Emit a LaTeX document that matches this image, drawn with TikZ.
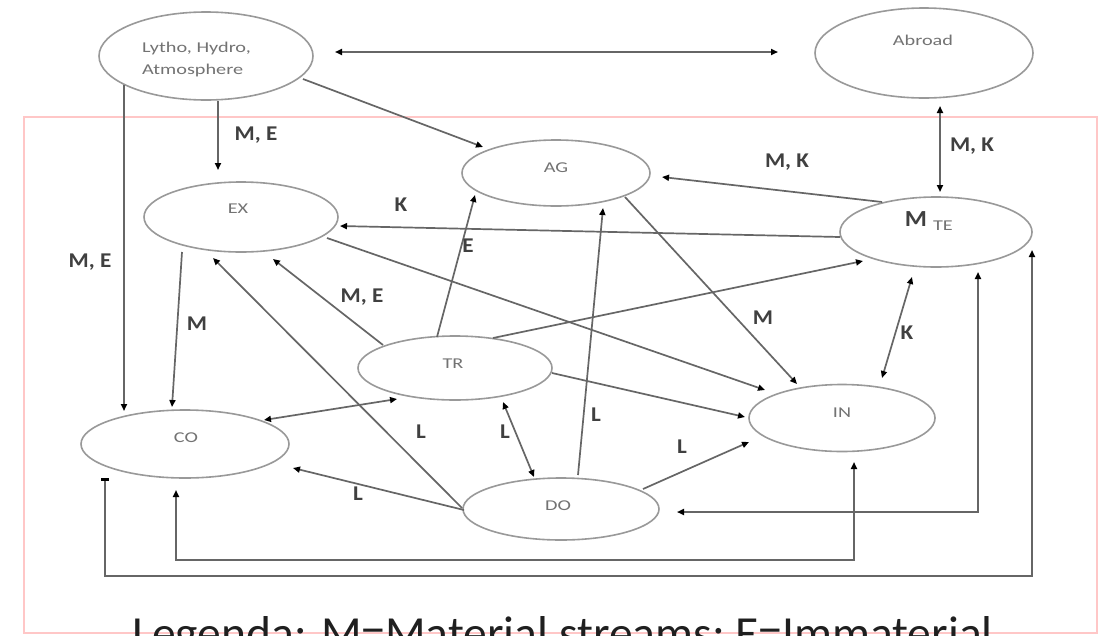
\documentclass[tikz,border=0pt]{standalone}
\usepackage{fontspec}
\setmainfont{Carlito}
\usetikzlibrary{shapes.geometric,arrows.meta,calc}
\newcommand{\nts}[1]{\scalebox{1.35}[1]{#1}}
\newcommand{\lbs}[1]{\scalebox{1.1}[1]{#1}}
\begin{document}
\begin{tikzpicture}[x=1pt,y=-1pt,
  ell/.style={draw=black!40, line width=1.6pt, ellipse, inner sep=0pt},
  con/.style={draw=black!60, line width=1.7pt},
  arr/.style={con, -{Triangle[length=7pt,width=6pt,color=black]}},
  dbl/.style={con, {Triangle[length=7pt,width=6pt,color=black]}-{Triangle[length=7pt,width=6pt,color=black]}},
  lab/.style={font=\fontsize{21}{21}\selectfont\bfseries, text=black!75, inner sep=0pt},
  ntxt/.style={font=\fontsize{15}{22}\selectfont, text=black!55, inner sep=0pt},
  frame/.style={draw=red!22, line width=1.5pt}
]
\useasboundingbox (0,0) rectangle (1105,635);
\fill[white] (0,0) rectangle (1105,635);
\clip (0,0) rectangle (1105,635);

% frame
\draw[frame] (24,117) rectangle (1097,633);

% ellipses
\node[ell, minimum width=214pt, minimum height=88pt] (LY) at (206,56) {};
\node[ell, minimum width=218pt, minimum height=90pt] (AB) at (924,53) {};
\node[ell, minimum width=188pt, minimum height=66pt] (AG) at (556,173) {};
\node[ell, minimum width=194pt, minimum height=70pt] (EX) at (241,217) {};
\node[ell, minimum width=192pt, minimum height=70pt] (TE) at (936,232) {};
\node[ell, minimum width=194pt, minimum height=64pt] (TR) at (455,368) {};
\node[ell, minimum width=186pt, minimum height=67pt] (IN) at (842,418) {};
\node[ell, minimum width=208pt, minimum height=68pt] (CO) at (185,444) {};
\node[ell, minimum width=196pt, minimum height=62pt] (DO) at (561,509) {};

% node texts
\node[ntxt, align=left, anchor=west] (LYt) at (142,59) {\nts{Lytho, Hydro,}\\\nts{Atmosphere}};
\node[ntxt] (ABt) at (923,40) {\nts{Abroad}};
\node[ntxt] (AGt) at (556,168) {\nts{AG}};
\node[ntxt] (EXt) at (238,209) {\nts{EX}};
\node[lab, font=\fontsize{23}{23}\selectfont\bfseries] (TEm) at (916,219) {\lbs{M}};
\node[ntxt] (TEt) at (943,226) {\nts{TE}};
\node[ntxt] (TRt) at (453,364) {\nts{TR}};
\node[ntxt] (INt) at (842,413) {\nts{IN}};
\node[ntxt] (COt) at (186,438) {\nts{CO}};
\node[ntxt] (DOt) at (558,506) {\nts{DO}};

% connectors
\draw[dbl] ($(LY)+(129,-4)$) -- ($(AB)+(-146,-1)$);
\draw[arr] ($(LY)+(97,23)$) -- ($(AG)+(-73,-26)$);
\draw[arr] ($(LY)+(12,45)$) -- ($(EX)+(-23,-47)$);
\draw[arr] ($(LY)+(-82,29)$) -- ($(CO)+(-61,-33)$);
\draw[arr] ($(EX)+(-59,35)$) -- ($(CO)+(-13,-37)$);
\draw[arr] ($(DO)+(-99,-1)$) -- ($(EX)+(-28,41)$);
\draw[arr] ($(DO)+(-97,1)$) -- ($(CO)+(108,24)$);
\draw[arr] ($(TR)+(-72,-23)$) -- ($(EX)+(32,42)$);
\draw[arr] ($(TR)+(-18,-31)$) -- ($(AG)+(-81,22)$);
\draw[arr] ($(TE)+(-54,-30)$) -- ($(AG)+(106,4)$);
\draw[arr] ($(TE)+(-96,5)$) -- ($(EX)+(99,9)$);
\draw[arr] ($(EX)+(86,21)$) -- ($(IN)+(-77,-28)$);
\draw[arr] ($(AG)+(69,24)$) -- ($(IN)+(-45,-34)$);
\draw[arr] ($(TR)+(38,-30)$) -- ($(TE)+(-73,29)$);
\draw[dbl] ($(TE)+(-24,45)$) -- ($(IN)+(40,-40)$);
\draw[dbl] ($(AB)+(16,53)$) -- ($(TE)+(4,-40)$);
\draw[arr] ($(TR)+(97,5)$) -- ($(IN)+(-97,-1)$);
\draw[dbl] ($(CO)+(79,-24)$) -- ($(TR)+(-58,31)$);
\draw[dbl] ($(TR)+(48,34)$) -- ($(DO)+(-27,-32)$);
\draw[arr] ($(DO)+(17,-34)$) -- ($(AG)+(47,35)$);
\draw[arr] ($(DO)+(82,-20)$) -- ($(IN)+(-93,24)$);
\draw[dbl] ($(DO)+(116,3)$) -| ($(TE)+(42,40)$);
\coordinate (b1) at (176,560);
\coordinate (b2) at (105,576);
\draw[dbl] ($(CO)+(-9,46)$) -- (b1) -| ($(IN)+(12,44)$);
\draw[con, {Rectangle[length=3pt,width=8pt,color=black]}-{Triangle[length=7pt,width=6pt,color=black]}] ($(CO)+(-80,34)$) -- (b2) -| ($(TE)+(96,18)$);

% labels
\node[lab] (l1) at (256,135) {\lbs{M, E}};
\node[lab] (l2) at (90,262) {\lbs{M, E}};
\node[lab] (l3) at (197,324) {\lbs{M}};
\node[lab] (l4) at (362,297) {\lbs{M, E}};
\node[lab] (l5) at (468,246) {\lbs{E}};
\node[lab] (l6) at (401,205) {\lbs{K}};
\node[lab] (l7) at (787,162) {\lbs{M, K}};
\node[lab] (l8) at (972,146) {\lbs{M, K}};
\node[lab] (l9) at (763,318) {\lbs{M}};
\node[lab] (l10) at (907,333) {\lbs{K}};
\node[lab] (l11) at (421,432) {\lbs{L}};
\node[lab] (l12) at (505,432) {\lbs{L}};
\node[lab] (l13) at (358,494) {\lbs{L}};
\node[lab] (l14) at (596,415) {\lbs{L}};
\node[lab] (l15) at (682,447) {\lbs{L}};

% legend (cut off by the lower edge, as in the reference)
\node[anchor=base west, inner sep=0pt, text=black!88, font=\fontsize{47.5}{50}\selectfont] (leg) at (132,649) {Legenda: M=Material streams; E=Immaterial};
\end{tikzpicture}
\end{document}
